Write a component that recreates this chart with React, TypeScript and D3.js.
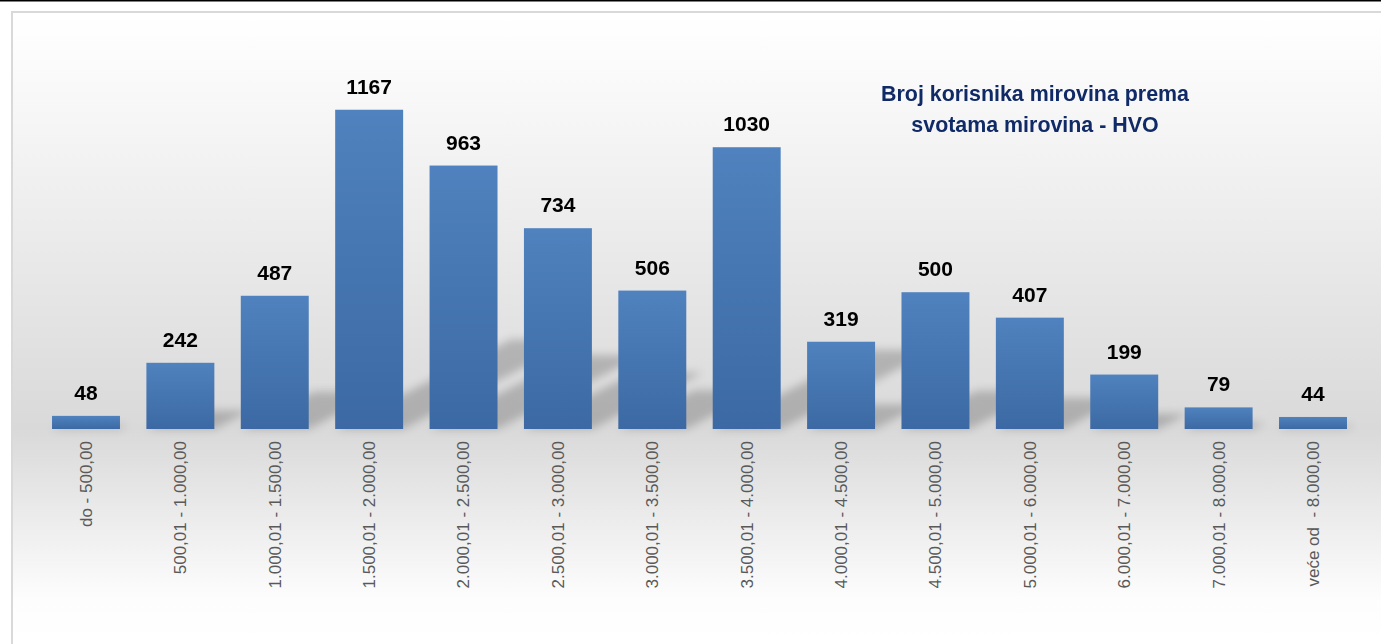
import React from "react";
import * as d3 from "d3";

const categories = [
  "do - 500,00",
  "500,01 - 1.000,00",
  "1.000,01 - 1.500,00",
  "1.500,01 - 2.000,00",
  "2.000,01 - 2.500,00",
  "2.500,01 - 3.000,00",
  "3.000,01 - 3.500,00",
  "3.500,01 - 4.000,00",
  "4.000,01 - 4.500,00",
  "4.500,01 - 5.000,00",
  "5.000,01 - 6.000,00",
  "6.000,01 - 7.000,00",
  "7.000,01 - 8.000,00",
  "veće od  - 8.000,00",
];
const values = [48, 242, 487, 1167, 963, 734, 506, 1030, 319, 500, 407, 199, 79, 44];
const titleLines = ["Broj korisnika mirovina prema", "svotama mirovina - HVO"];

const W = 1381;
const H = 644;
const FONT = "'Liberation Sans', Arial, sans-serif";

export default function App() {
  const x = d3
    .scaleBand<string>()
    .domain(categories)
    .range([38.8, 1360.2])
    .paddingInner(0.28)
    .paddingOuter(0.14);
  const y = d3.scaleLinear().domain([0, 1400]).range([429, 46]);
  const base = y(0);

  const shadowPath = (c: string, v: number) => {
    const x0 = x(c)!;
    const x1 = x0 + x.bandwidth();
    const h = base - y(v);
    const dx = 0.55 * h;
    const dy = 0.28 * h;
    const p = d3.path();
    p.moveTo(x0, base);
    p.lineTo(x1, base);
    p.lineTo(x1 + dx, base - dy);
    p.lineTo(x0 + dx, base - dy);
    p.closePath();
    return p.toString();
  };

  return (
    <div style={{ position: "absolute", left: 0, top: 0 }}>
      <svg width={W} height={H} style={{ display: "block" }}>
        <defs>
          <linearGradient id="bg" x1="0" y1="11" x2="0" y2={H} gradientUnits="userSpaceOnUse">
            <stop offset="0" stopColor="#ffffff" />
            <stop offset="0.05" stopColor="#fdfdfd" />
            <stop offset="0.66" stopColor="#d9d9d9" />
            <stop offset="0.93" stopColor="#fdfdfd" />
            <stop offset="1" stopColor="#ffffff" />
          </linearGradient>
          <linearGradient id="bar" x1="0" y1="0" x2="0" y2="1">
            <stop offset="0" stopColor="#4f82be" />
            <stop offset="1" stopColor="#3c69a3" />
          </linearGradient>
          <filter id="blur" x="-50%" y="-50%" width="200%" height="200%">
            <feGaussianBlur stdDeviation="4" />
          </filter>
        </defs>
        <rect x={0} y={0} width={W} height={H} fill="#ffffff" />
        <rect x={0} y={0} width={W} height={1.5} fill="#000000" />
        <rect x={12} y={12} width={W + 10} height={H + 10} fill="url(#bg)" stroke="#d9d9d9" strokeWidth={2} />

        <g filter="url(#blur)">
          {categories.map((c, i) => (
            <path key={c} d={shadowPath(c, values[i])} fill="#000000" opacity={0.2} />
          ))}
        </g>

        {categories.map((c, i) => (
          <rect
            key={c}
            x={x(c)}
            y={y(values[i])}
            width={x.bandwidth()}
            height={base - y(values[i])}
            fill="url(#bar)"
          />
        ))}

        {categories.map((c, i) => (
          <text
            key={c}
            x={x(c)! + x.bandwidth() / 2}
            y={y(values[i]) - 16}
            textAnchor="middle"
            fontFamily={FONT}
            fontWeight="bold"
            fontSize={21}
            fill="#000000"
          >
            {values[i]}
          </text>
        ))}

        {categories.map((c) => {
          const cx = x(c)! + x.bandwidth() / 2;
          return (
            <text
              key={c}
              transform={`translate(${cx},441) rotate(-90)`}
              textAnchor="end"
              dy="0.35em"
              fontFamily={FONT}
              fontSize={17}
              fill="#595959"
              style={{ whiteSpace: "pre" }}
            >
              {c}
            </text>
          );
        })}

        {titleLines.map((t, i) => (
          <text
            key={t}
            x={1035}
            y={101 + i * 31}
            textAnchor="middle"
            fontFamily={FONT}
            fontWeight="bold"
            fontSize={21.4}
            fill="#0f2a66"
          >
            {t}
          </text>
        ))}
      </svg>
    </div>
  );
}
